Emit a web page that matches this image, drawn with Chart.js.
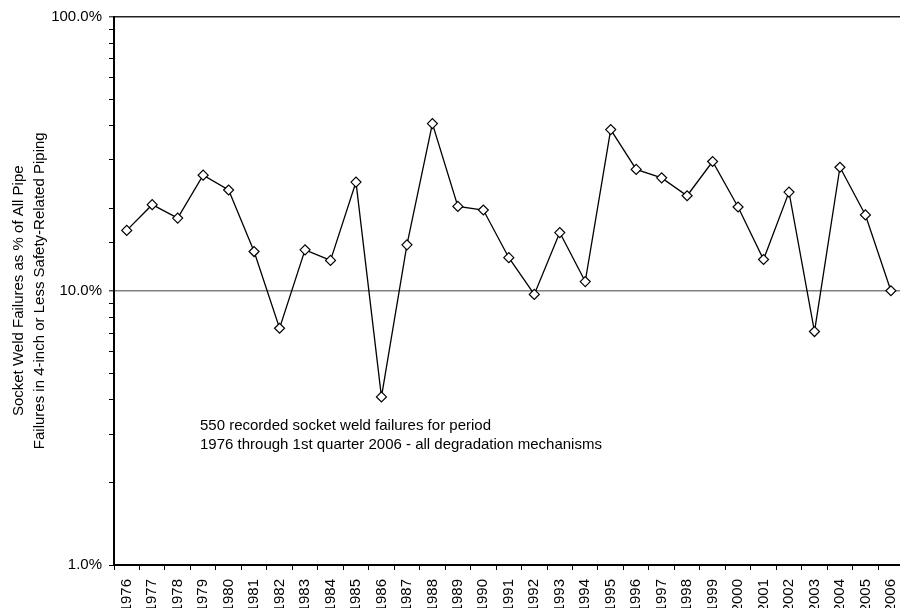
<!DOCTYPE html>
<html>
<head>
<meta charset="utf-8">
<title>Socket Weld Failures 1976-2006</title>
<script src="https://cdn.jsdelivr.net/npm/chart.js@4.4.1/dist/chart.umd.min.js"></script>
<style>
  html, body { margin: 0; padding: 0; background: #fff; overflow: hidden; }
  #wrap { width: 900px; height: 608px; overflow: hidden; position: relative; }
  canvas { display: block; }
</style>
</head>
<body>
<div id="wrap"><canvas id="chart" width="918" height="608"></canvas></div>
<script>
// Years on the category axis
const years = ['1976','1977','1978','1979','1980','1981','1982','1983','1984','1985',
  '1986','1987','1988','1989','1990','1991','1992','1993','1994','1995',
  '1996','1997','1998','1999','2000','2001','2002','2003','2004','2005','2006'];

// Socket weld failures as % of all pipe failures (4-inch or less, safety-related)
const socketWeldShare = [16.6, 20.6, 18.4, 26.4, 23.3, 13.9, 7.3, 14.1, 12.9, 24.9,
  4.1, 14.7, 40.7, 20.3, 19.7, 13.2, 9.7, 16.3, 10.8, 38.7,
  27.7, 25.8, 22.2, 29.6, 20.2, 13.0, 22.9, 7.1, 28.2, 18.9, 10.0];

// Labelled decades on the log axis
const labelledTicks = [1, 10, 100];

const yTitleLines = ['Socket Weld Failures as % of All Pipe',
  'Failures in 4-inch or Less Safety-Related Piping'];
const noteLines = ['550 recorded socket weld failures for period',
  '1976 through 1st quarter 2006 - all degradation mechanisms'];

const FONT = "'Liberation Sans', Arial, Helvetica, sans-serif";

// Draws the two-line rotated axis title and the note inside the plot
const textPlugin = {
  id: 'sideText',
  afterDraw(chart) {
    const { ctx, chartArea } = chart;
    ctx.save();
    ctx.fillStyle = '#000';
    ctx.font = '15px ' + FONT;
    // rotated y-axis title, centred on the plot height
    const cy = (chartArea.top + chartArea.bottom) / 2;
    const xs = [19, 40];
    yTitleLines.forEach((line, i) => {
      ctx.save();
      ctx.translate(xs[i], cy);
      ctx.rotate(-Math.PI / 2);
      ctx.textAlign = 'center';
      ctx.textBaseline = 'middle';
      ctx.fillText(line, 0, 0);
      ctx.restore();
    });
    // note
    ctx.textAlign = 'left';
    ctx.textBaseline = 'alphabetic';
    ctx.fillText(noteLines[0], 200, 430);
    ctx.fillText(noteLines[1], 200, 449);
    ctx.restore();
  }
};

const isDecade = (v) => labelledTicks.some(t => Math.abs(v - t) < 1e-9);

new Chart(document.getElementById('chart'), {
  type: 'line',
  data: {
    labels: years,
    datasets: [{
      data: socketWeldShare,
      borderColor: '#000',
      borderWidth: 1.3,
      tension: 0,
      pointStyle: 'rectRot',
      pointRadius: 5,
      pointBackgroundColor: '#fff',
      pointBorderColor: '#000',
      pointBorderWidth: 1.2,
      clip: false
    }]
  },
  options: {
    responsive: false,
    animation: false,
    events: [],
    layout: { padding: { left: 0, right: 1.5, top: 16.5, bottom: 0 } },
    plugins: { legend: { display: false }, tooltip: { enabled: false } },
    scales: {
      x: {
        type: 'category',
        offset: true,
        afterFit(scale) { scale.height = 43; },
        border: { display: true, color: '#000', width: 2 },
        grid: {
          offset: true,
          drawOnChartArea: false,
          drawTicks: true,
          tickLength: 5,
          tickColor: '#000',
          tickWidth: 1
        },
        ticks: {
          autoSkip: false,
          maxRotation: 90,
          minRotation: 90,
          padding: 9,
          color: '#000',
          font: { family: FONT, size: 15 }
        }
      },
      y: {
        type: 'logarithmic',
        min: 1,
        max: 100,
        afterFit(scale) { scale.width = 114; },
        border: { display: true, color: '#000', width: 2 },
        grid: {
          drawTicks: true,
          tickLength: 5,
          tickColor: '#000',
          tickWidth: 1,
          color(ctx) {
            const v = ctx.tick && ctx.tick.value;
            if (v === undefined) return 'rgba(0,0,0,0)';
            if (Math.abs(v - 10) < 1e-9) return '#808080';
            if (Math.abs(v - 100) < 1e-9) return '#222';
            return 'rgba(0,0,0,0)';
          },
          lineWidth(ctx) {
            const v = ctx.tick && ctx.tick.value;
            return (v !== undefined && (Math.abs(v - 10) < 1e-9 || Math.abs(v - 100) < 1e-9)) ? 1.6 : 1;
          }
        },
        ticks: {
          autoSkip: false,
          padding: 7,
          color: '#000',
          font: { family: FONT, size: 15 },
          callback(value) {
            return isDecade(value) ? value.toFixed(1) + '%' : '';
          }
        }
      }
    }
  },
  plugins: [textPlugin]
});
</script>
</body>
</html>
